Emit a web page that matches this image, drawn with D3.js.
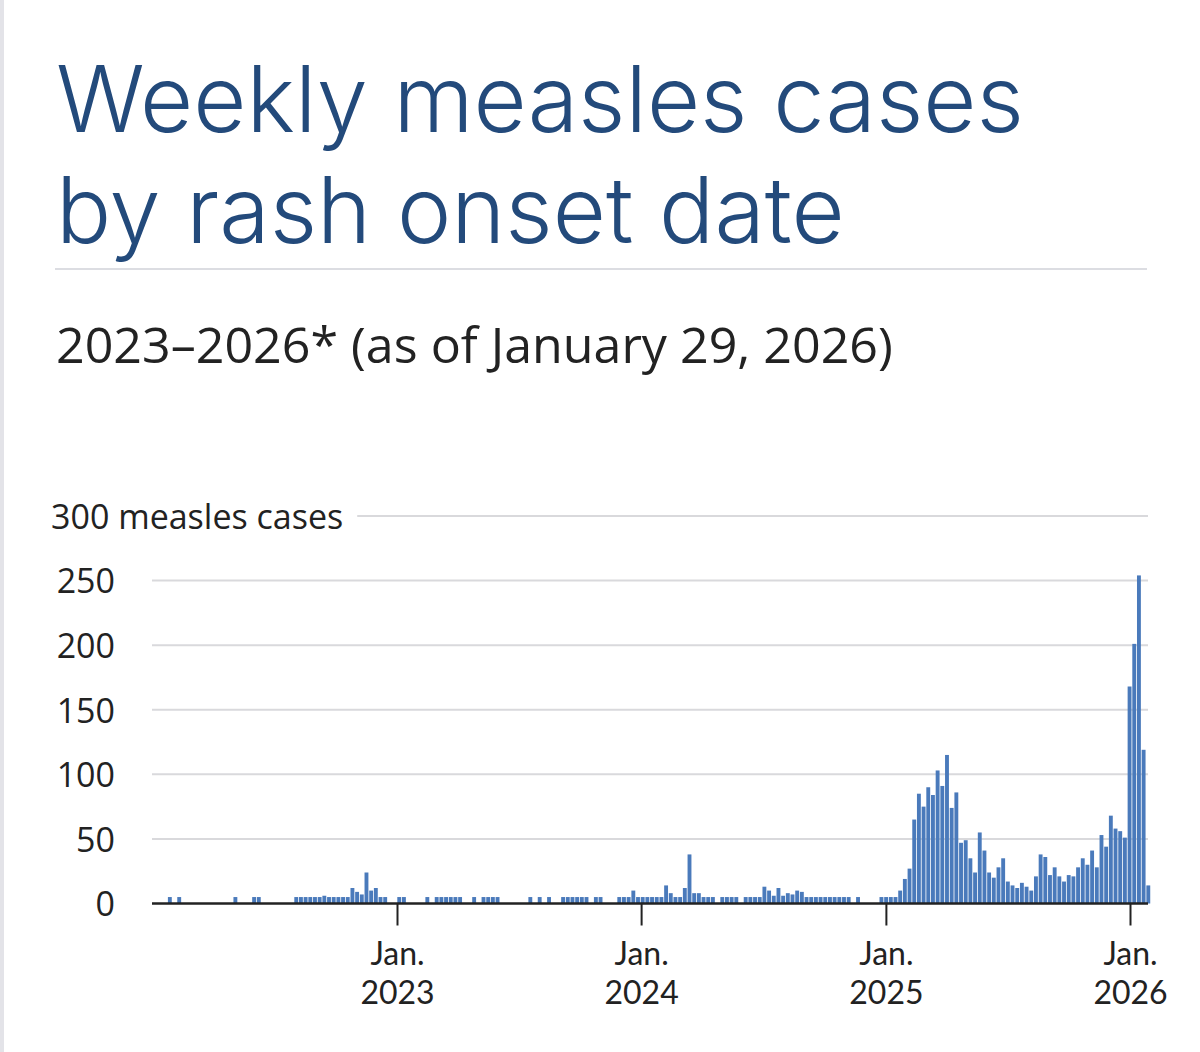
<!DOCTYPE html>
<html>
<head>
<meta charset="utf-8">
<script src="https://cdn.jsdelivr.net/npm/d3@7"></script>
<style>
html, body { margin: 0; padding: 0; background: #fff; }
svg { display: block; }
</style>
</head>
<body>
<div id="chart"></div>
<script>
'use strict';

// weekly counts, one per week starting on firstWeek (Sunday)
var firstWeek = '2022-01-02';
var weeklyCases = [
	0, 0, 0, 5, 0, 5, 0, 0, 0, 0,          // 0-9
	0, 0, 0, 0, 0, 0, 0, 5, 0, 0,          // 10-19
	0, 5, 5, 0, 0, 0, 0, 0, 0, 0,          // 20-29
	5, 5, 5, 5, 5, 5, 6, 5, 5, 5,          // 30-39
	5, 5, 12, 9, 7, 24, 10, 12, 5, 5,      // 40-49
	0, 0, 5, 5, 0, 0, 0, 0, 5, 0,          // 50-59
	5, 5, 5, 5, 5, 5, 0, 0, 5, 0,          // 60-69
	5, 5, 5, 5, 0, 0, 0, 0, 0, 0,          // 70-79
	5, 0, 5, 0, 5, 0, 0, 5, 5, 5,          // 80-89
	5, 5, 5, 0, 5, 5, 0, 0, 0, 5,          // 90-99
	5, 5, 10, 5, 5, 5, 5, 5, 5, 14,        // 100-109
	8, 5, 5, 12, 38, 8, 8, 5, 5, 5,        // 110-119
	0, 5, 5, 5, 5, 0, 5, 5, 5, 5,          // 120-129
	13, 10, 6, 12, 6, 8, 7, 10, 9, 5,      // 130-139
	5, 5, 5, 5, 5, 5, 5, 5, 5, 0,          // 140-149
	5, 0, 0, 0, 0, 5, 5, 5, 5, 10,         // 150-159
	19, 27, 65, 85, 75, 90, 84, 103, 91, 115, // 160-169
	74, 86, 47, 49, 35, 24, 55, 41, 24, 20,   // 170-179
	28, 35, 17, 14, 12, 16, 13, 10, 21, 38,   // 180-189
	36, 22, 28, 21, 17, 22, 21, 28, 35, 30,   // 190-199
	41, 28, 53, 44, 68, 58, 56, 51, 168, 201, // 200-209
	254, 119, 14                              // 210-212
];
var yTicks = [0, 50, 100, 150, 200, 250, 300];
var xTickYears = [2023, 2024, 2025, 2026];
var titleLines = ['Weekly measles cases', 'by rash onset date'];
var subtitle = '2023\u20132026* (as of January 29, 2026)';
var yUnit = 'measles cases';

var W = 1200, H = 1052;
var titleColor = '#234a7b';
var barColor = '#4a7abb';
var inkColor = '#222222';
var gridColor = '#d9d9dc';
var labelFont = '"Open Sans", sans-serif';

var svg = d3.select('#chart').append('svg')
	.attr('width', W)
	.attr('height', H);

// left page edge
svg.append('rect')
	.attr('x', 0).attr('y', 0)
	.attr('width', 4).attr('height', H)
	.attr('fill', '#e3e3e8');

// scale a text node so it spans the given width
function fitWidth(sel, target)
{
	var w = sel.node().getComputedTextLength();
	var fs = parseFloat(sel.attr('font-size'));
	return fs * target / w;
}

// title
var title = svg.append('g').attr('fill', titleColor)
	.attr('font-family', 'Inter, "Open Sans", sans-serif')
	.attr('font-weight', 300);
var t1 = title.append('text').attr('x', 56).attr('y', 132).attr('font-size', 80).text(titleLines[0]);
var tSize = fitWidth(t1, 968);
t1.attr('font-size', tSize);
title.append('text').attr('x', 56).attr('y', 243).attr('font-size', tSize).text(titleLines[1]);

svg.append('line')
	.attr('x1', 55).attr('x2', 1147)
	.attr('y1', 269).attr('y2', 269)
	.attr('stroke', '#dcdde2').attr('stroke-width', 2);

var sub = svg.append('text')
	.attr('x', 56).attr('y', 363)
	.attr('fill', inkColor)
	.attr('font-family', labelFont)
	.attr('font-size', 42)
	.text(subtitle);
sub.attr('font-size', fitWidth(sub, 837));

// scales
var parse = d3.utcParse('%Y-%m-%d');
var start = parse(firstWeek);
var data = weeklyCases.map(function(v, i) { return { date: d3.utcWeek.offset(start, i), value: v }; });

var x = d3.scaleUtc()
	.domain([parse('2023-01-01'), parse('2026-01-01')])
	.range([397, 1130]);
var y = d3.scaleLinear().domain([0, 300]).range([903.5, 516]);

var plotLeft = 152, plotRight = 1148;

// y axis labels + grid
var yAxis = svg.append('g')
	.attr('transform', 'translate(115,0)')
	.call(d3.axisLeft(y).tickValues(yTicks).tickSize(0).tickPadding(0));
yAxis.attr('font-family', labelFont).attr('font-size', 34);
yAxis.select('.domain').remove();
yAxis.selectAll('text')
	.attr('fill', inkColor)
	.attr('dy', '0.36em');

var topLabel = yAxis.selectAll('.tick').filter(function(d) { return d === 300; }).select('text');
topLabel.attr('text-anchor', 'start').attr('x', -64).text('300 ' + yUnit);
var bb = topLabel.node().getBBox();
var topEnd = 115 + bb.x + bb.width;

svg.append('g').selectAll('line')
	.data(yTicks.filter(function(d) { return d > 0; }))
	.enter().append('line')
	.attr('x1', function(d) { return d === 300 ? topEnd + 14 : plotLeft; })
	.attr('x2', plotRight)
	.attr('y1', function(d) { return y(d); })
	.attr('y2', function(d) { return y(d); })
	.attr('stroke', gridColor)
	.attr('stroke-width', 2);

// bars
svg.append('g').selectAll('rect')
	.data(data.filter(function(d) { return d.value > 0; }))
	.enter().append('rect')
	.attr('x', function(d) { return x(d.date) + 0.3; })
	.attr('width', function(d) { return x(d3.utcWeek.offset(d.date, 1)) - x(d.date) - 0.8; })
	.attr('y', function(d) { return y(d.value); })
	.attr('height', function(d) { return y(0) - y(d.value); })
	.attr('fill', barColor);

// x axis
var xAxis = svg.append('g')
	.attr('transform', 'translate(0,' + y(0) + ')')
	.call(d3.axisBottom(x)
		.tickValues(xTickYears.map(function(yr) { return parse(yr + '-01-01'); }))
		.tickSize(22)
		.tickFormat(''));
xAxis.select('.domain').remove();
xAxis.selectAll('.tick line').attr('stroke', inkColor).attr('stroke-width', 2);

xAxis.append('line')
	.attr('x1', plotLeft).attr('x2', plotRight)
	.attr('y1', 0).attr('y2', 0)
	.attr('stroke', inkColor).attr('stroke-width', 2.5);

var ticks = xAxis.selectAll('.tick');
ticks.append('text')
	.attr('fill', inkColor)
	.attr('font-family', 'Lato, "Open Sans", sans-serif')
	.attr('font-size', 32)
	.attr('text-anchor', 'middle')
	.attr('y', 61)
	.text('Jan.');
ticks.append('text')
	.attr('fill', inkColor)
	.attr('font-family', 'Lato, "Open Sans", sans-serif')
	.attr('font-size', 32)
	.attr('text-anchor', 'middle')
	.attr('y', 100)
	.text(function(d) { return d.getUTCFullYear(); });
</script>
</body>
</html>
